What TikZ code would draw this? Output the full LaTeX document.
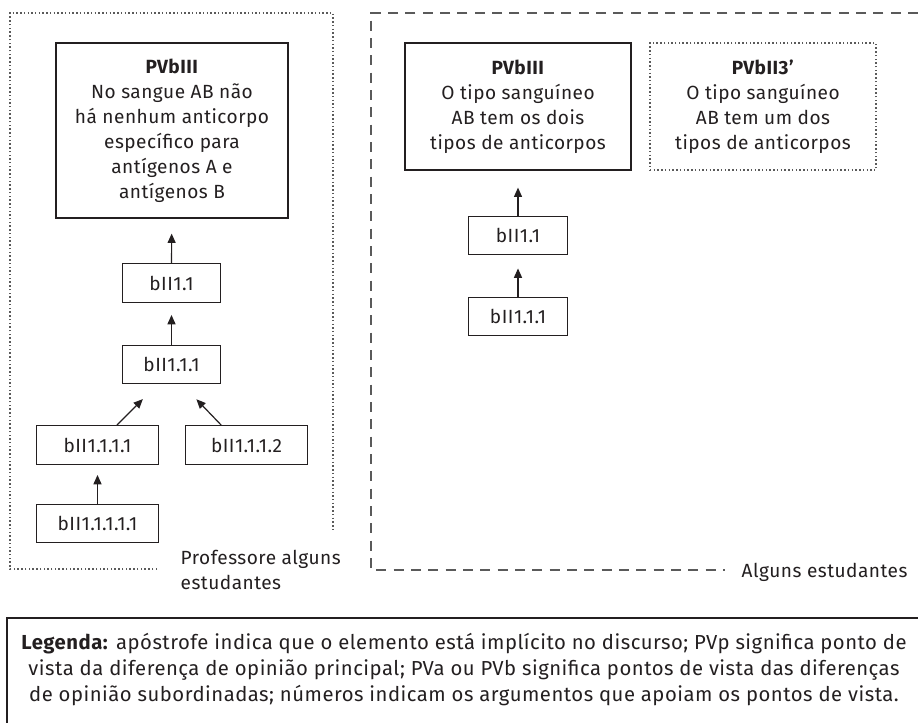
\documentclass[tikz,border=0pt]{standalone}
\usepackage{fontspec}
\setmainfont[LetterSpace=2.5]{Fira Sans}
\usetikzlibrary{arrows.meta}
\definecolor{inkgray}{HTML}{231F20}
\definecolor{framegray}{HTML}{5A5A5A}

\begin{document}
\begin{tikzpicture}[x=0.75pt, y=-0.75pt,
    every node/.style={text=inkgray, font=\fontsize{14.3}{18.75}\selectfont},
    argbox/.style={draw=inkgray, line width=0.9pt, inner sep=0pt, minimum height=29pt, align=center},
    smallbox/.style={argbox, minimum width=74pt},
    widebox/.style={argbox, minimum width=92pt},
    arr/.style={-{Triangle[length=7pt,width=6pt]}, line width=0.9pt, draw=inkgray},
    dotframe/.style={draw=framegray, line width=1pt, dash pattern=on 1.1pt off 1.7pt},
    dashframe/.style={draw=framegray, line width=1.2pt, dash pattern=on 7.5pt off 5.5pt}]
  \useasboundingbox (0,0) rectangle (918,722);

  % professor and some students
  \draw[dotframe] (157,569) -- (10,569) -- (10,13) -- (333,13) -- (333,532);
  \node[anchor=west, align=left] (who1) at (176,570) {Professore alguns\\estudantes};
  \node[argbox, minimum width=174pt, minimum height=131.25pt] (pv1) at (172,130.5)
    {\textbf{PVbIII}\\No sangue AB não\\há nenhum anticorpo\\específico para\\antígenos A e\\antígenos B};
  \node[smallbox] (b11) at (171.5,283) {bII1.1};
  \node[smallbox] (b111) at (171.5,364.5) {bII1.1.1};
  \node[widebox] (b1111) at (97.5,445) {bII1.1.1.1};
  \node[widebox] (b1112) at (246.5,445) {bII1.1.1.2};
  \node[widebox] (b11111) at (97.5,523.5) {bII1.1.1.1.1};
  \draw[arr, shorten >=11.25pt](b11) -- (pv1);
  \draw[arr, shorten >=9pt](b111) -- (b11);
  \draw[arr, shorten >=15.5pt]([xshift=14.6pt]b1111.north) -- ([xshift=-10.5pt]b111.south);
  \draw[arr, shorten >=15.4pt]([xshift=-19pt]b1112.north) -- ([xshift=8pt]b111.south);
  \draw[arr, shorten >=7.5pt](b11111) -- (b1111);

  % some students
  \draw[dashframe] (918,13) -- (371,13) -- (371,570) -- (725,570);
  \node[anchor=west] (who2) at (737,572) {Alguns estudantes};
  \node[argbox, minimum width=169.5pt, minimum height=95.25pt] (pv2) at (518,106.5)
    {\textbf{PVbIII}\\O tipo sanguíneo\\AB tem os dois\\tipos de anticorpos};
  \node[argbox, dotframe, minimum width=169.5pt, minimum height=95.25pt] (pv3) at (763,106.5)
    {\textbf{PVbII3’}\\O tipo sanguíneo\\AB tem um dos\\tipos de anticorpos};
  \node[smallbox] (c11) at (518,235.5) {bII1.1};
  \node[smallbox] (c111) at (518,316.5) {bII1.1.1};
  \draw[arr, shorten >=12.75pt](c11) -- (pv2);
  \draw[arr, shorten >=9.75pt](c111) -- (c11);

  % legend
  \draw[draw=inkgray, line width=0.9pt] (7,730) -- (7,618) -- (930,618);
  \node[align=center, font=\fontsize{15.2}{19.5}\selectfont] (legend) at (464,670)
    {\textbf{Legenda:} apóstrofe indica que o elemento está implícito no discurso; PVp significa ponto de\\
     vista da diferença de opinião principal; PVa ou PVb significa pontos de vista das diferenças\\
     de opinião subordinadas; números indicam os argumentos que apoiam os pontos de vista.};
\end{tikzpicture}
\end{document}
